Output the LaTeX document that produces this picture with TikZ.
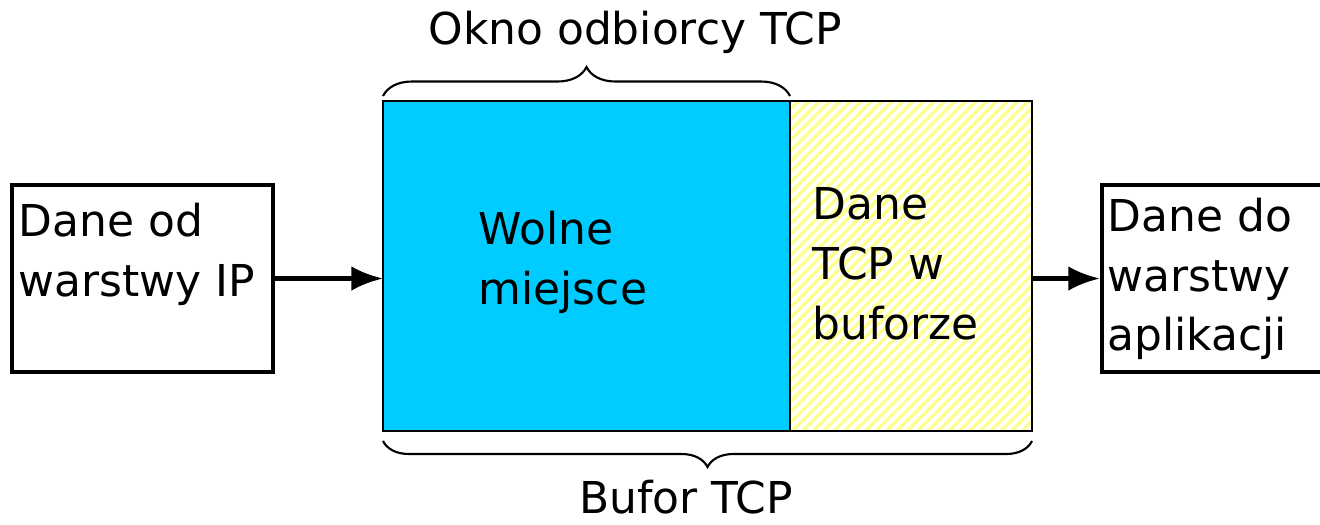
\documentclass[tikz,border=0pt]{standalone}
\usepackage{fontspec}
\setmainfont{DejaVu Sans}
\usetikzlibrary{arrows.meta,positioning,patterns.meta,decorations.pathreplacing}
\definecolor{wolnyblue}{HTML}{00CCFF}
\definecolor{hatchyellow}{HTML}{FFFF8C}

\begin{document}
\begin{tikzpicture}[
        font=\fontsize{12.5}{17}\selectfont,
        warstwa/.style={rectangle, draw, line width=1.2pt, minimum width=2.61cm, minimum height=1.87cm},
        wolne/.style={rectangle, draw, line width=0.6pt, outer sep=0pt, fill=wolnyblue, minimum width=4.07cm, minimum height=3.30cm},
        zajete/.style={rectangle, draw, line width=0.6pt, outer sep=0pt, pattern={Lines[angle=45, distance=2.1pt, line width=0.95pt]}, pattern color=hatchyellow, minimum width=2.42cm, minimum height=3.30cm},
        opis/.style={align=left, anchor=west, inner sep=0pt},
        line/.style={draw, -{Latex[length=9pt, width=7pt]}, line width=1.3pt},
        klamra/.style={draw, line width=0.6pt, decorate, decoration={brace, amplitude=0.29cm}}
    ]
    \useasboundingbox (0,0) rectangle (13.2,5.24);
    \clip (0,0) rectangle (13.2,5.24);
    \node [wolne] (wolne) at (5.865,2.58) {};
    \node [zajete, right=0pt of wolne] (zajete) {};
    \node [warstwa] (lin) at (1.425,2.455) {};
    \node [warstwa, minimum width=2.26cm] (lout) at (12.15,2.455) {};
    \node [opis] (lin-txt) at (0.18,2.70) {Dane od\\warstwy IP};
    \node [opis] (wolne-txt) at (4.78,2.62) {Wolne\\miejsce};
    \node [opis] (zajete-txt) at (8.12,2.60) {Dane\\TCP w\\buforze};
    \node [opis] (lout-txt) at (11.07,2.45) {Dane do\\warstwy\\aplikacji};
    \node (okno) at (6.35,4.92) {Okno odbiorcy TCP};
    \node (bufor) at (6.86,0.27) {Bufor TCP};
    \path [line] (lin.east) -- (lin.east -| wolne.west);
    \path [line] (lout.west -| zajete.east) -- (lout.west);
    \path [klamra] ([yshift=0.05cm]wolne.north west) -- ([yshift=0.05cm]wolne.north east);
    \path [klamra, decoration={brace, amplitude=0.26cm}] ([yshift=-0.1cm]zajete.south east) -- ([yshift=-0.1cm]wolne.south west);
\end{tikzpicture}
\end{document}
